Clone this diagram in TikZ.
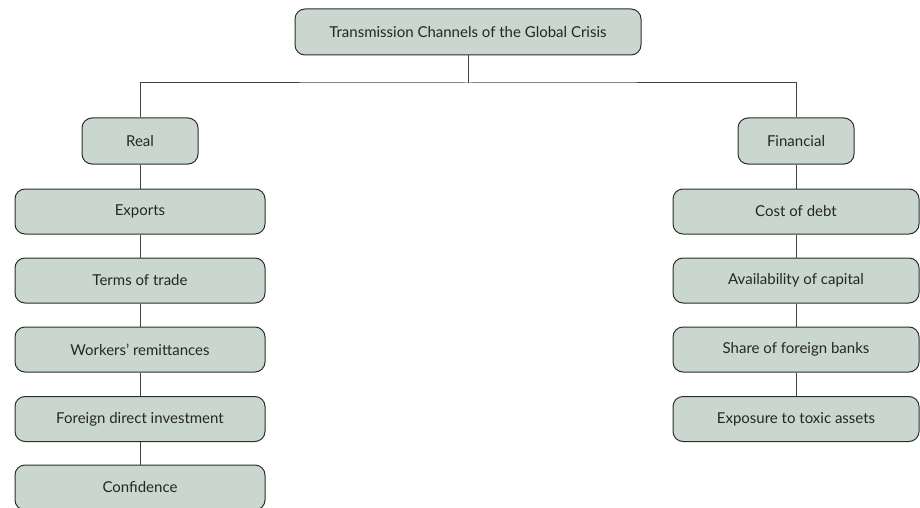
\documentclass[tikz,border=0pt]{standalone}
\usepackage{fontspec}
\setmainfont{Lato}
\usepackage{tikz}
\usetikzlibrary{positioning}
\definecolor{boxfill}{RGB}{201,215,207}
\definecolor{boxline}{RGB}{45,45,45}
\tikzset{
channel/.style={draw=boxline, fill=boxfill, rounded corners=10pt, line width=1pt,
  minimum height=45pt, font=\fontsize{15}{17}\selectfont, text=black!85}, % every box
link/.style={draw=boxline!90, line width=1pt},
}
\begin{document}
\begin{tikzpicture}[x=1pt, y=-1pt]
    \useasboundingbox (0,0) rectangle (920,508);
    \node[channel, minimum width=346pt, minimum height=46pt] at (468,32) (crisis) {Transmission Channels of the Global Crisis};
    \coordinate (split) at (468,83);
    \node[channel, minimum width=116pt, minimum height=46pt] at (140,141) (real) {Real};
    \node[channel, minimum width=116pt, minimum height=46pt] at (796,141) (fin) {Financial};
    % real channels
    \node[channel, minimum width=250pt] at (140,211.5) (r1) {Exports};
    \node[channel, minimum width=250pt] at (140,280.5) (r2) {Terms of trade};
    \node[channel, minimum width=250pt] at (140,349.5) (r3) {Workers’ remittances};
    \node[channel, minimum width=250pt] at (140,419) (r4) {Foreign direct investment};
    \node[channel, minimum width=250pt] at (140,487.5) (r5) {Confidence};
    % financial channels
    \node[channel, minimum width=246pt] at (796,211.5) (f1) {Cost of debt};
    \node[channel, minimum width=246pt] at (796,280.5) (f2) {Availability of capital};
    \node[channel, minimum width=246pt] at (796,349.5) (f3) {Share of foreign banks};
    \node[channel, minimum width=246pt] at (796,419) (f4) {Exposure to toxic assets};
    \draw[link]
    (crisis) -- (split)
    (real) |- (split) -| (fin)
    (real) -- (r1) -- (r2) -- (r3) -- (r4) -- (r5)
    (fin) -- (f1) -- (f2) -- (f3) -- (f4)
    ;
\end{tikzpicture}
\end{document}
